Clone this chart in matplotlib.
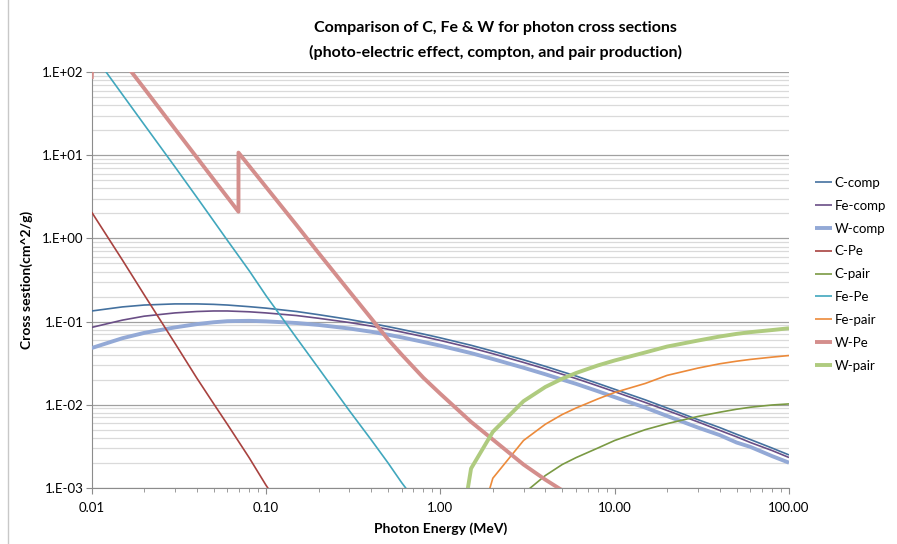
import matplotlib
matplotlib.use('Agg')
import matplotlib.pyplot as plt
from matplotlib.ticker import LogLocator, FixedLocator, NullFormatter
from matplotlib.lines import Line2D

plt.rcParams['font.family'] = ['Lato', 'DejaVu Sans']

# photon energies (MeV)
energy = [0.01, 0.015, 0.02, 0.03, 0.04, 0.05, 0.06, 0.08, 0.1, 0.15, 0.2, 0.3,
          0.4, 0.5, 0.6, 0.8, 1, 1.5, 2, 3, 4, 5, 6, 8, 10, 15, 20, 30, 40,
          50, 60, 80, 100]

# compton (cm^2/g)
c_comp = [0.134, 0.150, 0.158, 0.163, 0.163, 0.161, 0.158, 0.151, 0.145, 0.132,
          0.121, 0.106, 0.0953, 0.0869, 0.0804, 0.0707, 0.0636, 0.0518, 0.0440,
          0.0346, 0.0289, 0.0249, 0.0221, 0.0180, 0.0153, 0.0114, 0.0091,
          0.0066, 0.0053, 0.0044, 0.0038, 0.0030, 0.00248]
fe_comp = [0.085, 0.104, 0.116, 0.127, 0.132, 0.134, 0.134, 0.131, 0.127, 0.118,
           0.1095, 0.0974, 0.0883, 0.0808, 0.0748, 0.0658, 0.0592, 0.0482,
           0.0410, 0.0322, 0.0269, 0.0232, 0.0206, 0.0168, 0.0143, 0.0106,
           0.0085, 0.0062, 0.0049, 0.0041, 0.0035, 0.0028, 0.00231]
w_comp = [0.048, 0.063, 0.073, 0.085, 0.093, 0.098, 0.101, 0.102, 0.1005, 0.096,
          0.091, 0.0825, 0.0755, 0.0695, 0.0645, 0.0568, 0.0512, 0.0417, 0.0354,
          0.0278, 0.0232, 0.0200, 0.0178, 0.0145, 0.0123, 0.0092, 0.0073,
          0.0053, 0.0043, 0.0035, 0.0031, 0.0024, 0.0020]

# photo-electric
c_pe_e = [0.01, 0.015, 0.02, 0.03, 0.04, 0.05, 0.06, 0.08, 0.1, 0.15]
c_pe = [2.07, 0.55, 0.21, 0.055, 0.021, 0.0103, 0.0058, 0.0023, 0.00107, 0.0003]
fe_pe_e = [0.01, 0.015, 0.02, 0.03, 0.04, 0.05, 0.06, 0.08, 0.1, 0.15, 0.2, 0.3,
           0.4, 0.5, 0.6, 0.8, 1]
fe_pe = [175, 54, 23.5, 7.3, 3.15, 1.63, 0.95, 0.41, 0.205, 0.063, 0.0275,
         0.0085, 0.0038, 0.0020, 0.00115, 0.00052, 0.00027]
w_pe_e = [0.01, 0.0102, 0.015, 0.02, 0.03, 0.04, 0.05, 0.06, 0.0695, 0.0695,
          0.08, 0.1, 0.15, 0.2, 0.3, 0.4, 0.5, 0.6, 0.8, 1, 1.5, 2, 3, 4, 5, 6]
w_pe = [83, 230, 140, 64, 20.9, 9.5, 5.15, 3.14, 2.10, 10.8, 7.47, 4.16, 1.44,
        0.67, 0.232, 0.110, 0.0613, 0.040, 0.021, 0.0135, 0.0062, 0.0038,
        0.0019, 0.00125, 0.00093, 0.0007]

# pair production
pair_e = [1.25, 1.5, 2, 3, 4, 5, 6, 8, 10, 15, 20, 30, 40, 50, 60, 80, 100]
c_pair = [0.00001, 0.00004, 0.00025, 0.00085, 0.0014, 0.0019, 0.0023, 0.0030,
          0.0037, 0.0050, 0.0059, 0.0072, 0.0081, 0.0088, 0.0093, 0.0099, 0.0102]
fe_pair = [0.00003, 0.00017, 0.0013, 0.0037, 0.0058, 0.0076, 0.0091, 0.0117,
           0.0140, 0.0180, 0.0225, 0.0275, 0.031, 0.0333, 0.035, 0.0373, 0.039]
w_pair = [0.00016, 0.0017, 0.0047, 0.0110, 0.0163, 0.0205, 0.0240, 0.0296,
          0.034, 0.0425, 0.050, 0.059, 0.066, 0.071, 0.0745, 0.079, 0.083]

xticks = [0.01, 0.1, 1, 10, 100]
xtick_labels = ['0.01', '0.10', '1.00', '10.00', '100.00']
yticks = [1e-3, 1e-2, 1e-1, 1e0, 1e1, 1e2]
ytick_labels = ['1.E-03', '1.E-02', '1.E-01', '1.E+00', '1.E+01', '1.E+02']

# name, x, y, colour, width  (legend order)
series = [
    ('C-comp', energy, c_comp, '#44719F', 1.2),
    ('Fe-comp', energy, fe_comp, '#6A4E86', 1.2),
    ('W-comp', energy, w_comp, '#93A9D6', 2.8),
    ('C-Pe', c_pe_e, c_pe, '#A8423F', 1.2),
    ('C-pair', pair_e, c_pair, '#7A9A43', 1.2),
    ('Fe-Pe', fe_pe_e, fe_pe, '#41A7BD', 1.2),
    ('Fe-pair', pair_e, fe_pair, '#EC8A3A', 1.2),
    ('W-Pe', w_pe_e, w_pe, '#D48E8C', 2.8),
    ('W-pair', pair_e, w_pair, '#AFCB7F', 2.8),
]

fig = plt.figure(figsize=(8.97, 5.44), dpi=100)
ax = fig.add_axes([91.7/897, 1-487.7/544, (789-91.7)/897, (487.7-72.3)/544])

for name, x, y, c, lw in series:
    ax.plot(x, y, color=c, linewidth=lw, label=name, solid_capstyle='butt',
            zorder=3)

ax.set_xscale('log')
ax.set_yscale('log')
ax.set_xlim(0.01, 100)
ax.set_ylim(1e-3, 1e2)

ax.xaxis.set_major_locator(FixedLocator(xticks))
ax.set_xticklabels(xtick_labels)
ax.xaxis.set_minor_locator(LogLocator(base=10, subs=range(2, 10)))
ax.xaxis.set_minor_formatter(NullFormatter())
ax.yaxis.set_major_locator(FixedLocator(yticks))
ax.set_yticklabels(ytick_labels)
ax.yaxis.set_minor_locator(LogLocator(base=10, subs=range(2, 10)))
ax.yaxis.set_minor_formatter(NullFormatter())

ax.grid(axis='y', which='major', color='#A0A0A0', linewidth=0.9)
ax.grid(axis='y', which='minor', color='#DADADA', linewidth=0.9)
ax.set_axisbelow(True)

for s in ['top', 'right']:
    ax.spines[s].set_visible(False)
for s in ['left', 'bottom']:
    ax.spines[s].set_color('#8C8C8C')
ax.tick_params(axis='both', which='major', colors='#8C8C8C', labelcolor='black',
               labelsize=9.5, length=4, direction='out', pad=2)
ax.tick_params(axis='x', which='major', pad=6)
ax.tick_params(axis='x', which='minor', colors='#8C8C8C', length=3)
ax.tick_params(axis='y', which='minor', length=0)

ax.set_xlabel('Photon Energy (MeV)', fontsize=10, fontweight='bold', labelpad=6)
ax.set_ylabel('Cross sestion(cm^2/g)', fontsize=10, fontweight='bold', labelpad=6)

fig.text(495/897, 1-28/544, 'Comparison of C, Fe & W for photon cross sections',
         ha='center', va='center', fontsize=11.5, fontweight='bold')
fig.text(495/897, 1-52/544, '(photo-electric effect, compton, and pair production)',
         ha='center', va='center', fontsize=11.5, fontweight='bold')

fig.legend(loc='upper left', bbox_to_anchor=(815/897, 1-177/544), frameon=False,
           fontsize=9.5, handlelength=1.3, handletextpad=0.2, labelspacing=0.82,
           borderpad=0, borderaxespad=0)

# chart border on the left
fig.add_artist(Line2D([8/897, 8/897], [0, 1], color='#C8C8C8', linewidth=1,
                      transform=fig.transFigure))

fig.savefig('out.png', dpi=100)
